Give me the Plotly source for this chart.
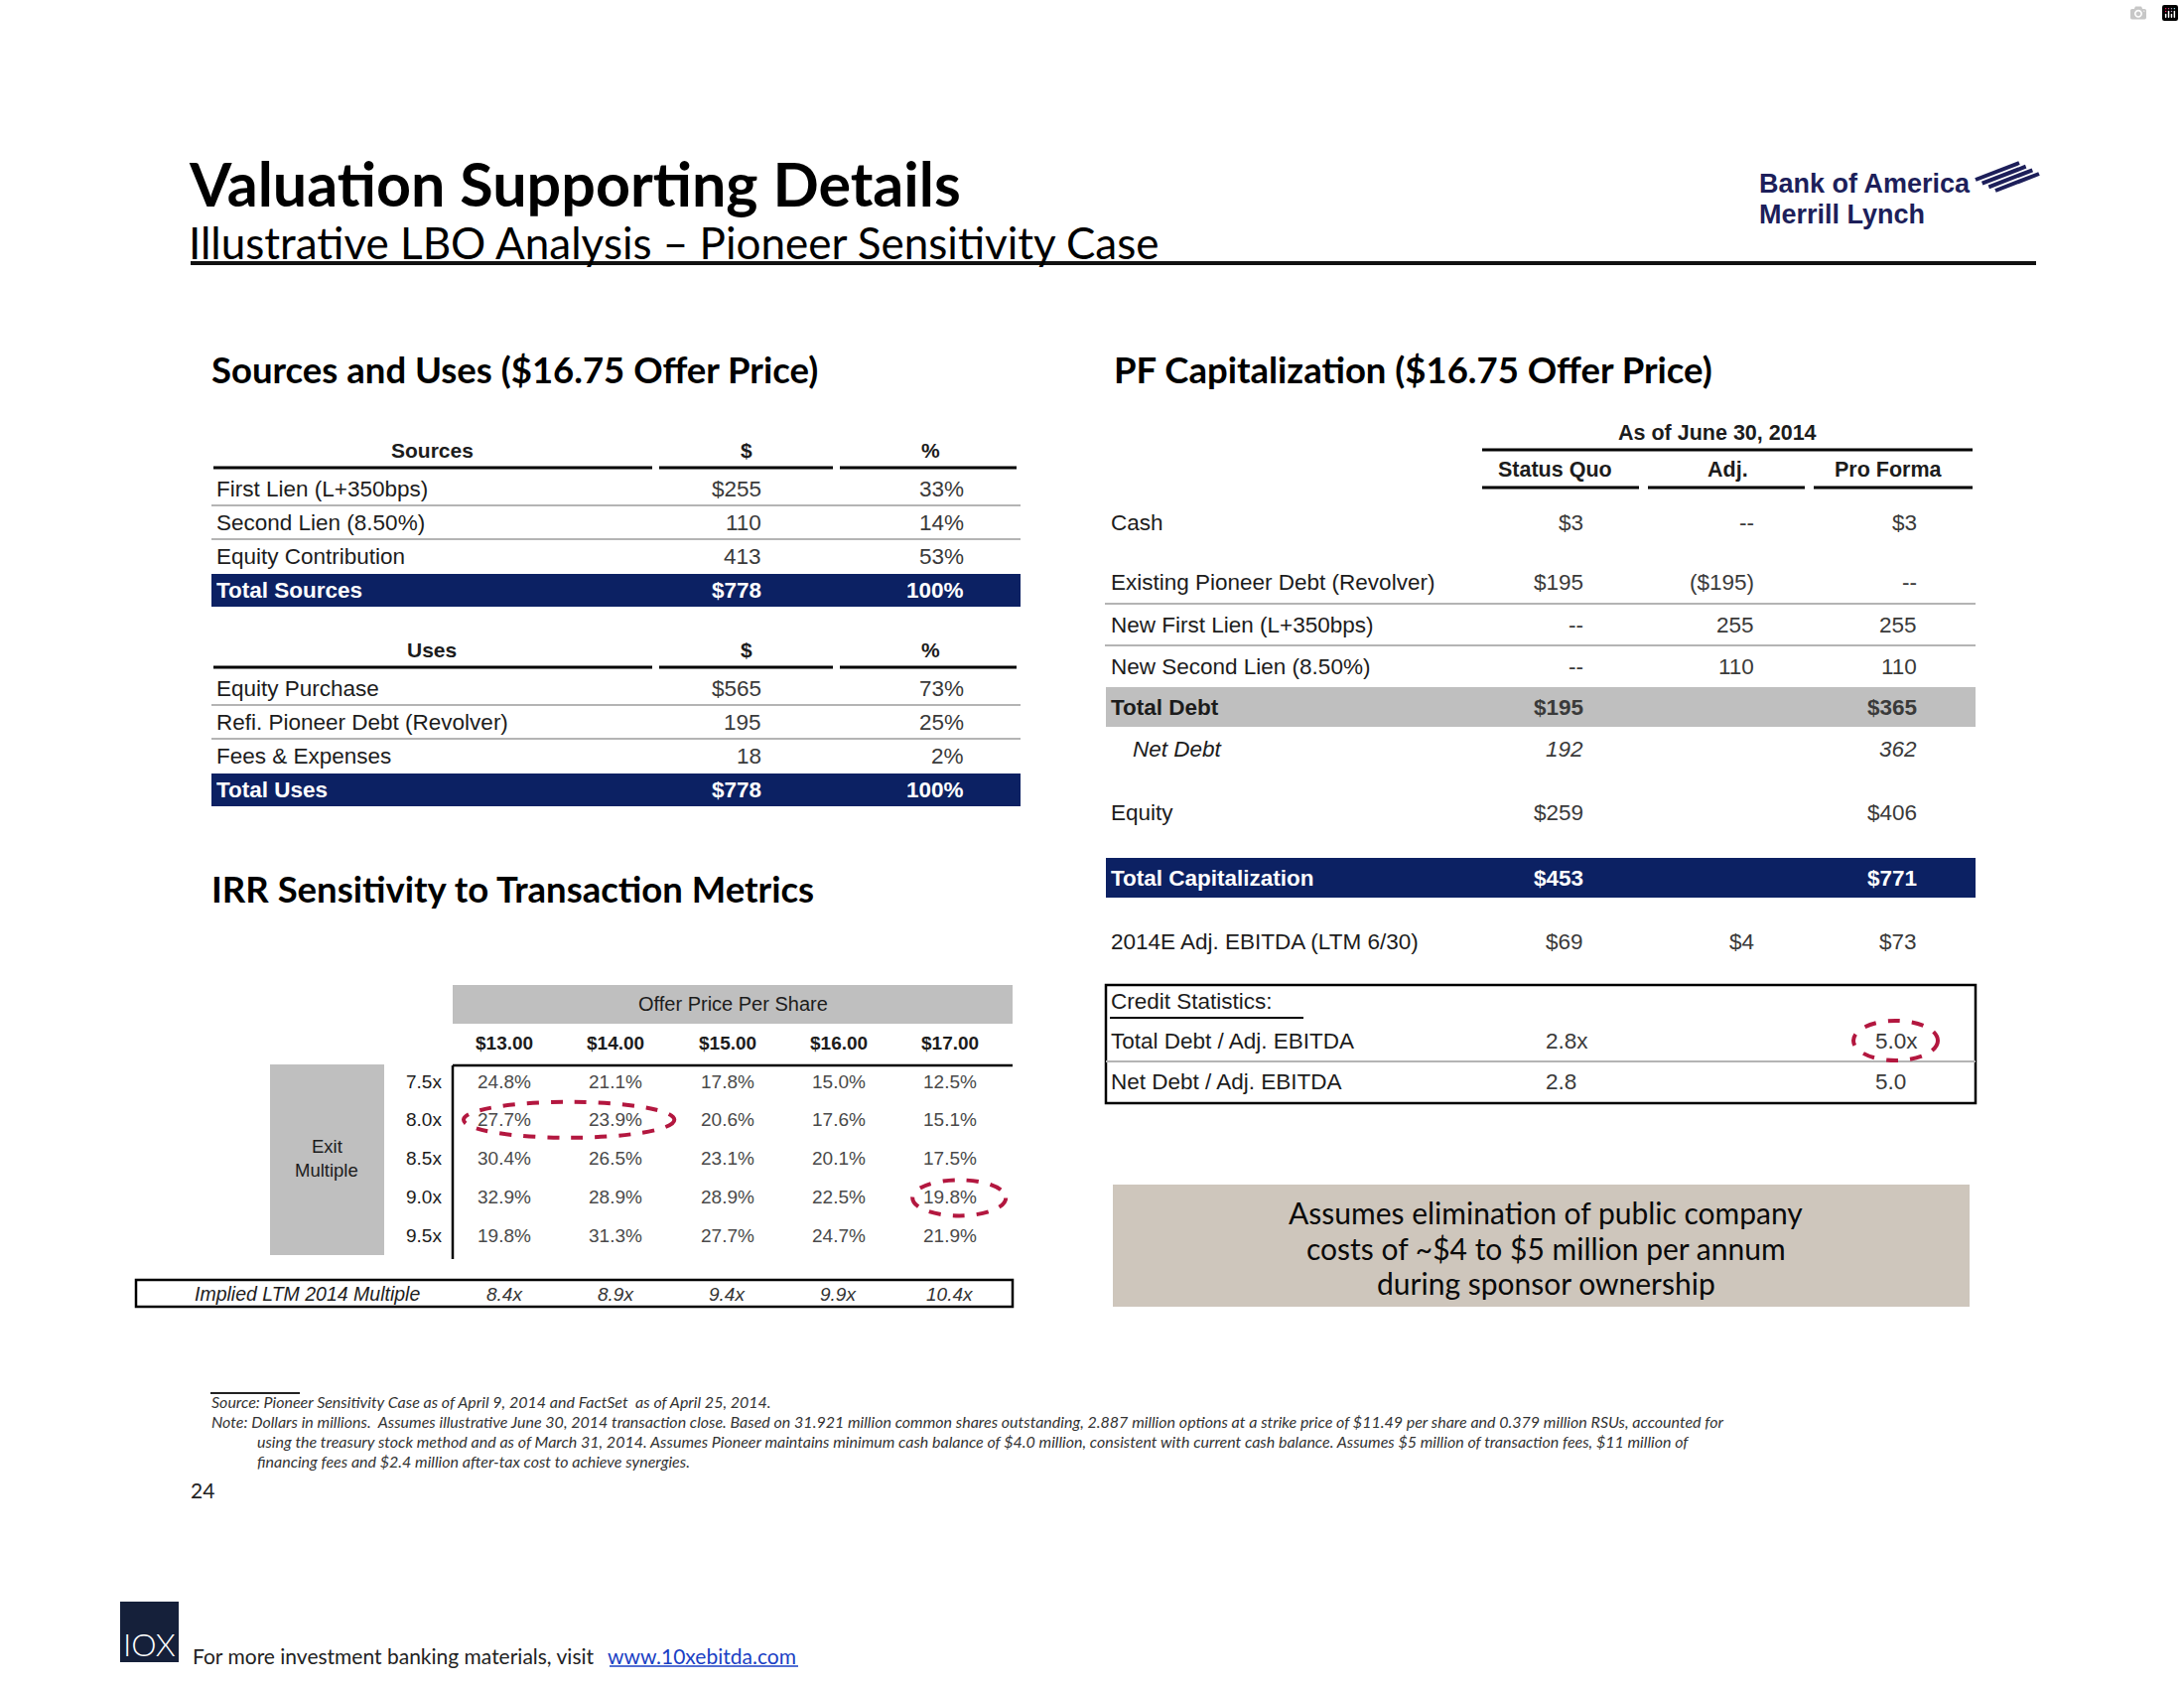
import plotly.graph_objects as go

# ---------------- data ----------------
title = "Valuation Supporting Details"
subtitle = "Illustrative LBO Analysis – Pioneer Sensitivity Case"

sources_labels = ["First Lien (L+350bps)", "Second Lien (8.50%)", "Equity Contribution"]
sources_amounts = [255, 110, 413]
sources_pcts = [33, 14, 53]
sources_total = 778
sources_total_pct = 100

uses_labels = ["Equity Purchase", "Refi. Pioneer Debt (Revolver)", "Fees & Expenses"]
uses_amounts = [565, 195, 18]
uses_pcts = [73, 25, 2]
uses_total = 778
uses_total_pct = 100

offer_prices = [13.00, 14.00, 15.00, 16.00, 17.00]
exit_multiples = [7.5, 8.0, 8.5, 9.0, 9.5]
irr_values = [
    [24.8, 21.1, 17.8, 15.0, 12.5],
    [27.7, 23.9, 20.6, 17.6, 15.1],
    [30.4, 26.5, 23.1, 20.1, 17.5],
    [32.9, 28.9, 28.9, 22.5, 19.8],
    [19.8, 31.3, 27.7, 24.7, 21.9],
]
implied_ltm_multiples = [8.4, 8.9, 9.4, 9.9, 10.4]

cap_columns = ["Status Quo", "Adj.", "Pro Forma"]
cap_labels = ["Cash", "Existing Pioneer Debt (Revolver)", "New First Lien (L+350bps)",
              "New Second Lien (8.50%)", "Total Debt", "Net Debt", "Equity",
              "Total Capitalization", "2014E Adj. EBITDA (LTM 6/30)"]
cap_status_quo = [3, 195, None, None, 195, 192, 259, 453, 69]
cap_adj = [None, -195, 255, 110, "", "", "", "", 4]
cap_pro_forma = [3, None, 255, 110, 365, 362, 406, 771, 73]
cap_dollar_rows = [0, 1, 4, 6, 7, 8]

credit_labels = ["Total Debt / Adj. EBITDA", "Net Debt / Adj. EBITDA"]
credit_status_quo = [2.8, 2.8]
credit_pro_forma = [5.0, 5.0]

callout_lines = ["Assumes elimination of public company",
                 "costs of ~$4 to $5 million per annum",
                 "during sponsor ownership"]

footnote_source = "Source: Pioneer Sensitivity Case as of April 9, 2014 and FactSet  as of April 25, 2014."
footnote_note = [
    "Note: Dollars in millions.  Assumes illustrative June 30, 2014 transaction close. Based on 31.921 million common shares outstanding, 2.887 million options at a strike price of $11.49 per share and 0.379 million RSUs, accounted for",
    "using the treasury stock method and as of March 31, 2014. Assumes Pioneer maintains minimum cash balance of $4.0 million, consistent with current cash balance. Assumes $5 million of transaction fees, $11 million of",
    "financing fees and $2.4 million after-tax cost to achieve synergies.",
]
page_number = "24"

# ---------------- styles ----------------
SANS = "Liberation Sans, Arial, sans-serif"
HEAD = "Lato, Carlito, sans-serif"
NAVY = "#0c2163"
GRAY_BAND = "#bfbfbf"
SEP = "#b4b4b4"
RED = "#b3173f"
TXT = "#1c1c1c"
VAL = "#3a3a3a"
TS = 22.5  # table text size

fig = go.Figure()
fig.update_layout(
    width=2200, height=1700, margin=dict(l=0, r=0, t=0, b=0),
    paper_bgcolor="white", plot_bgcolor="white", showlegend=False,
    xaxis=dict(range=[0, 2200], visible=False, fixedrange=True),
    yaxis=dict(range=[1700, 0], visible=False, fixedrange=True),
)


def text(x, y, s, size=21, color=TXT, family=SANS, xanchor="left", yanchor="middle"):
    fig.add_annotation(x=x, y=y, text=s, showarrow=False, xref="x", yref="y",
                       xanchor=xanchor, yanchor=yanchor, borderpad=0,
                       font=dict(family=family, size=size, color=color))


def hline(x0, x1, y, color="black", width=2, dash=None, layer="above"):
    fig.add_shape(type="line", xref="x", yref="y", x0=x0, x1=x1, y0=y, y1=y,
                  line=dict(color=color, width=width, dash=dash), layer=layer)


def vline(x, y0, y1, color="black", width=2):
    fig.add_shape(type="line", xref="x", yref="y", x0=x, x1=x, y0=y0, y1=y1,
                  line=dict(color=color, width=width))


def rect(x0, y0, x1, y1, fill=None, line_color=None, width=0):
    fig.add_shape(type="rect", xref="x", yref="y", x0=x0, x1=x1, y0=y0, y1=y1,
                  fillcolor=fill if fill else "rgba(0,0,0,0)",
                  line=dict(color=line_color if line_color else "rgba(0,0,0,0)", width=width),
                  layer="below")


def ellipse(x0, y0, x1, y1):
    fig.add_shape(type="circle", xref="x", yref="y", x0=x0, x1=x1, y0=y0, y1=y1,
                  line=dict(color=RED, width=4, dash="dash"))


# ---------------- header ----------------
text(189, 184, "<b>" + title + "</b>", size=61, color="#000", family=HEAD)
text(189, 244, subtitle, size=44, color="#000", family=HEAD)
hline(192, 2051, 265, color="#111", width=4, layer="below")

text(1771, 185, "<b>Bank of America</b>", size=27, color="#1d1f5a", family=SANS)
text(1771, 216, "<b>Merrill Lynch</b>", size=27, color="#1d1f5a", family=SANS)
for k in range(4):
    t = k / 3.0
    sx, sy = 1990 + 20 * t, 181 + 11 * t
    fig.add_shape(type="line", xref="x", yref="y", x0=sx, y0=sy, x1=sx + 44, y1=sy - 17,
                  line=dict(color="#1d1f5a", width=4))

# ---------------- Sources & Uses ----------------
text(212, 372, "<b>Sources and Uses ($16.75 Offer Price)</b>", size=36.5, color="#000", family=HEAD)

SU_X0, SU_X1 = 213, 1028
SU_LABEL_X = 217
SU_AMT_X = 768
SU_PCT_X = 972
SU_HEAD_CX = [435, 752, 937]
SU_RULES = [(215, 657), (664, 839), (846, 1024)]
ROW_H = 34


def su_table(header_y, header, labels, amounts, pcts, total_label, total, total_pct):
    text(SU_HEAD_CX[0], header_y, "<b>" + header + "</b>", size=21, xanchor="center")
    text(SU_HEAD_CX[1], header_y, "<b>$</b>", size=21, xanchor="center")
    text(SU_HEAD_CX[2], header_y, "<b>%</b>", size=21, xanchor="center")
    for a, b in SU_RULES:
        hline(a, b, header_y + 18, width=3)
    y0 = header_y + 39
    for i, (lab, amt, pct) in enumerate(zip(labels, amounts, pcts)):
        y = y0 + i * ROW_H
        text(SU_LABEL_X, y, lab, size=TS)
        text(SU_AMT_X, y, ("$" if i == 0 else "") + f"{amt}", size=TS, color=VAL, xanchor="right")
        text(SU_PCT_X, y, f"{pct}%", size=TS, color=VAL, xanchor="right")
        if i < len(labels) - 1:
            hline(SU_X0, SU_X1, y + ROW_H / 2, color=SEP, width=2)
    ty = y0 + len(labels) * ROW_H
    rect(SU_X0, ty - 16, SU_X1, ty + 17, fill=NAVY)
    text(SU_LABEL_X, ty, "<b>" + total_label + "</b>", size=TS, color="white")
    text(SU_AMT_X, ty, f"<b>${total}</b>", size=TS, color="white", xanchor="right")
    text(SU_PCT_X, ty, f"<b>{total_pct}%</b>", size=TS, color="white", xanchor="right")


su_table(453, "Sources", sources_labels, sources_amounts, sources_pcts, "Total Sources", sources_total, sources_total_pct)
su_table(654, "Uses", uses_labels, uses_amounts, uses_pcts, "Total Uses", uses_total, uses_total_pct)

# ---------------- IRR Sensitivity ----------------
text(212, 895, "<b>IRR Sensitivity to Transaction Metrics</b>", size=36.5, color="#000", family=HEAD)

IRR_X0, IRR_DX = 508, 112.3
IRR_Y0, IRR_DY = 1089, 38.8
GRID_L, GRID_R = 456, 1020
col_x = [IRR_X0 + i * IRR_DX for i in range(len(offer_prices))]
row_y = [IRR_Y0 + j * IRR_DY for j in range(len(exit_multiples))]

rect(GRID_L, 992, GRID_R, 1031, fill=GRAY_BAND)
text((GRID_L + GRID_R) / 2, 1011, "Offer Price Per Share", size=20, xanchor="center")
for cx, p in zip(col_x, offer_prices):
    text(cx, 1050, f"<b>${p:.2f}</b>", size=19, xanchor="center")
hline(GRID_L, GRID_R, 1073, width=2.5)
vline(GRID_L, 1073, 1268, width=2.5)

rect(272, 1072, 387, 1264, fill=GRAY_BAND)
text(329, 1154, "Exit", size=18.5, xanchor="center")
text(329, 1178, "Multiple", size=18.5, xanchor="center")

for j, (ry, m) in enumerate(zip(row_y, exit_multiples)):
    text(446, ry, f"{m:.1f}x", size=19, xanchor="right")
    for i, cx in enumerate(col_x):
        text(cx, ry, f"{irr_values[j][i]:.1f}%", size=19, color="#4a4a4a", xanchor="center")

ellipse(col_x[0] - 41, row_y[1] - 18, col_x[1] + 59, row_y[1] + 18)
ellipse(col_x[4] - 38, row_y[3] - 17, col_x[4] + 56, row_y[3] + 19)

rect(137, 1289, GRID_R, 1316, line_color="black", width=2.5)
text(309, 1303, "<i>Implied LTM 2014 Multiple</i>", size=19.5, xanchor="center")
for cx, m in zip(col_x, implied_ltm_multiples):
    text(cx, 1303, f"<i>{m:.1f}x</i>", size=19, color="#333", xanchor="center")

# ---------------- PF Capitalization ----------------
text(1121, 372, "<b>PF Capitalization ($16.75 Offer Price)</b>", size=36.5, color="#000", family=HEAD)

CAP_X0, CAP_X1 = 1114, 1990
CAP_LABEL_X = 1118
CAP_VAL_X = [1596, 1768, 1932]
CAP_HEAD_CX = [1566, 1740, 1902]
CAP_RULES = [(1493, 1651), (1660, 1818), (1827, 1987)]
cap_row_y = [526, 586, 629, 671, 712, 754, 818, 884, 948]

text(1730, 436, "<b>As of June 30, 2014</b>", size=21.5, xanchor="center")
hline(1493, 1987, 453, width=3)
for cx, c in zip(CAP_HEAD_CX, cap_columns):
    text(cx, 473, "<b>" + c + "</b>", size=21.5, xanchor="center")
for a, b in CAP_RULES:
    hline(a, b, 491, width=3)


def fmt_cap(v, dollar):
    if v is None:
        return "--"
    if v == "":
        return ""
    if v < 0:
        return f"(${-v})" if dollar else f"({-v})"
    return (f"${v}" if dollar else f"{v}")


rect(CAP_X0, 692, CAP_X1, 732, fill=GRAY_BAND)
rect(CAP_X0, 864, CAP_X1, 904, fill=NAVY)
hline(CAP_X0 - 1, CAP_X1, 608, color=SEP, width=2)
hline(CAP_X0 - 1, CAP_X1, 650, color=SEP, width=2)

for r, (lab, y) in enumerate(zip(cap_labels, cap_row_y)):
    dollar = r in cap_dollar_rows
    vals = [cap_status_quo[r], cap_adj[r], cap_pro_forma[r]]
    color = TXT
    lx = CAP_LABEL_X
    bold = False
    italic = False
    if lab == "Total Debt":
        bold = True
    elif lab == "Net Debt":
        italic = True
        lx = CAP_LABEL_X + 22
    elif lab == "Total Capitalization":
        bold = True
        color = "white"
    if bold:
        wrap = lambda s: "<b>" + s + "</b>"
    elif italic:
        wrap = lambda s: "<i>" + s + "</i>"
    else:
        wrap = lambda s: s
    text(lx, y, wrap(lab), size=TS, color=color)
    for vx, v in zip(CAP_VAL_X, vals):
        s = fmt_cap(v, dollar)
        if s:
            text(vx, y, wrap(s), size=TS, color=(color if color == "white" else VAL), xanchor="right")

# credit statistics
rect(CAP_X0, 992, CAP_X1, 1111, line_color="black", width=2.5)
text(CAP_LABEL_X, 1008, "Credit Statistics:", size=TS)
hline(CAP_LABEL_X, 1313, 1025, color="black", width=2)
credit_y = [1048, 1089]
hline(CAP_X0, CAP_X1, 1069, color=SEP, width=2)
for k, (lab, y) in enumerate(zip(credit_labels, credit_y)):
    text(CAP_LABEL_X, y, lab, size=TS)
    suffix = "x" if k == 0 else ""
    text(1556, y, f"{credit_status_quo[k]:.1f}{suffix}", size=TS, color=VAL)
    text(1888, y, f"{credit_pro_forma[k]:.1f}{suffix}", size=TS, color=VAL)
ellipse(1867, 1028, 1952, 1068)

# callout
rect(1121, 1193, 1984, 1316, fill="#cec6bc")
for k, line in enumerate(callout_lines):
    text(1557, 1221 + k * 35.5, line, size=30, color="#0a0a0a", family=HEAD, xanchor="center")

# ---------------- footnotes ----------------
hline(212, 302, 1403, color="#222", width=2)
text(212, 1411, "<i>" + footnote_source + "</i>", size=16, color="#333", family=HEAD)
text(212, 1431, "<i>" + footnote_note[0] + "</i>", size=16, color="#333", family=HEAD)
text(258, 1451, "<i>" + footnote_note[1] + "</i>", size=16, color="#333", family=HEAD)
text(258, 1471, "<i>" + footnote_note[2] + "</i>", size=16, color="#333", family=HEAD)
text(191, 1500, page_number, size=21, color="#222", family=HEAD)

# ---------------- footer ----------------
rect(121, 1613, 180, 1674, fill="#15203a")
text(123, 1655, "IOX", size=32, color="white", family="Lato Light, Lato, sans-serif")
text(193, 1667, "For more investment banking materials, visit ", size=21, color="#222", family=HEAD)
fig.add_annotation(x=804, y=1667, text="www.10xebitda.com", showarrow=False, xref="x", yref="y",
                   xanchor="right", yanchor="middle", font=dict(family=HEAD, size=21, color="#1a3fc4"))
hline(614, 804, 1678, color="#1a3fc4", width=1.5)

fig.write_html("out.html", post_script="document.body.style.margin='0';document.body.style.overflow='hidden';")
